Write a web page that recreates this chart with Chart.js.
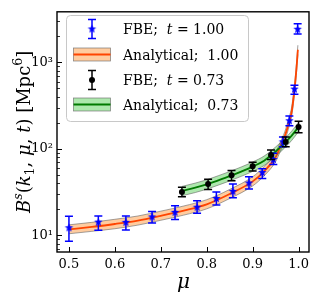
<!DOCTYPE html>
<html>
<head>
<meta charset="utf-8">
<script src="https://cdn.jsdelivr.net/npm/chart.js@4.4.1/dist/chart.umd.min.js"></script>
<style>
  html, body { margin: 0; padding: 0; background: #fff; }
  canvas { display: block; }
</style>
</head>
<body>
<canvas id="myChart" width="316" height="299"></canvas>
<script>
// FBE measurements, t = 1.00
const muBlue = [0.5, 0.564, 0.624, 0.681, 0.731, 0.779, 0.821, 0.857, 0.892, 0.921, 0.945, 0.966, 0.980, 0.991, 0.998];
const bBlue = [12.2, 14.2, 14.1, 16.3, 18.4, 21.1, 26.6, 32.2, 40.2, 53.1, 75.2, 120.5, 211, 491, 2421];
const bBlueLo = [8.5, 11.4, 11.5, 13.9, 15.2, 18.0, 22.4, 27.1, 34.4, 45.4, 65.8, 106, 185, 428, 2128];
const bBlueHi = [16.6, 16.7, 16.7, 18.8, 22.0, 25.1, 31.6, 39.2, 47.4, 58.9, 88.9, 137, 240, 545, 2800];

// FBE measurements, t = 0.73
const muBlack = [0.746, 0.803, 0.854, 0.900, 0.940, 0.972, 1.0];
const bBlack = [31.6, 39.2, 49.4, 62.8, 85.1, 120, 179];
const bBlackLo = [27.8, 33.9, 42.8, 55.4, 75, 106, 153];
const bBlackHi = [36.0, 44.6, 56.3, 70.0, 97, 137, 209];

// analytical, t = 1.00
const muA1 = [0.5, 0.55, 0.6, 0.65, 0.7, 0.75, 0.8, 0.85, 0.9, 0.925, 0.95, 0.96, 0.97, 0.98, 0.985, 0.99, 0.995, 0.9985];
const a1 = [11.7, 12.5, 13.5, 14.8, 16.8, 19.3, 22.8, 30.0, 42.0, 55.0, 80, 105, 140, 210, 270, 430, 800, 1400];
const a1Lo = [10.4, 11.1, 11.9, 13.1, 14.9, 17.1, 20.2, 26.6, 37.2, 48.7, 71, 93, 124, 186, 239, 381, 708, 1239];
const a1Hi = [13.2, 14.1, 15.3, 16.7, 19.0, 21.8, 25.8, 33.9, 47.5, 62.2, 90, 119, 158, 237, 305, 486, 904, 1582];

// analytical, t = 0.73
const muA2 = [0.746, 0.775, 0.8, 0.825, 0.85, 0.875, 0.9, 0.925, 0.95, 0.97, 0.985, 1.0];
const a2 = [32.5, 35.5, 38.8, 43.2, 48.3, 54.5, 62.3, 73, 93, 117, 142, 179];
const a2Lo = [28.6, 31.2, 34.1, 38.0, 42.5, 48.0, 54.8, 64.2, 81.8, 103, 125, 158];
const a2Hi = [36.7, 40.1, 43.8, 48.8, 54.6, 61.6, 70.4, 82.5, 105, 132, 160, 202];

const xTicks = [0.5, 0.6, 0.7, 0.8, 0.9, 1.0];
const xTickLabels = ['0.5', '0.6', '0.7', '0.8', '0.9', '1.0'];
const yTicks = [10, 100, 1000];
const yTickLabels = ['10¹', '10²', '10³'];
const yMinor = [7, 8, 9, 20, 30, 40, 50, 60, 70, 80, 90, 200, 300, 400, 500, 600, 700, 800, 900, 2000, 3000];

const serif = '"DejaVu Serif"';
const orangeFill = 'rgba(255,127,14,0.4)';
const greenFill = 'rgba(60,200,60,0.42)';
const edgeGray = 'rgba(100,100,100,0.75)';

function pts(xs, ys) {
  return xs.map((x, i) => ({ x: x, y: ys[i] }));
}

function starImage(r, color) {
  const c = document.createElement('canvas');
  c.width = c.height = Math.ceil(r * 2 + 2);
  const g = c.getContext('2d');
  const cx = c.width / 2, cy = c.height / 2;
  g.beginPath();
  for (let i = 0; i < 10; i++) {
    const rr = i % 2 ? r * 0.42 : r;
    const a = -Math.PI / 2 + i * Math.PI / 5;
    g.lineTo(cx + rr * Math.cos(a), cy + rr * Math.sin(a));
  }
  g.closePath();
  g.fillStyle = color;
  g.fill();
  return c;
}

// draw a run of text pieces with their own style (italic, sup, sub)
function runs(ctx, parts, size, x, y, measureOnly) {
  let w = 0;
  parts.forEach(p => {
    const s = p.sup || p.sub ? size * 0.7 : size;
    ctx.font = (p.it ? 'italic ' : '') + s + 'px ' + serif;
    const dy = p.sup ? -size * 0.42 : p.sub ? size * 0.22 : 0;
    if (!measureOnly) ctx.fillText(p.t, x + w, y + dy);
    w += ctx.measureText(p.t).width;
  });
  return w;
}

const frameTicks = {
  id: 'frameTicks',
  afterDraw(chart) {
    const { ctx, chartArea: a, scales } = chart;
    ctx.save();
    ctx.strokeStyle = '#000';
    ctx.lineWidth = 1;
    xTicks.forEach(v => {
      const px = Math.round(scales.x.getPixelForValue(v)) + 0.5;
      ctx.beginPath(); ctx.moveTo(px, a.bottom); ctx.lineTo(px, a.bottom - 5); ctx.stroke();
    });
    yTicks.forEach(v => {
      const py = Math.round(scales.y.getPixelForValue(v)) + 0.5;
      ctx.beginPath(); ctx.moveTo(a.left, py); ctx.lineTo(a.left + 5, py); ctx.stroke();
    });
    ctx.lineWidth = 0.8;
    yMinor.forEach(v => {
      const py = Math.round(scales.y.getPixelForValue(v)) + 0.5;
      ctx.beginPath(); ctx.moveTo(a.left, py); ctx.lineTo(a.left + 3, py); ctx.stroke();
    });
    ctx.lineWidth = 1.4;
    ctx.strokeRect(a.left, a.top, a.right - a.left, a.bottom - a.top);

    // axis titles
    ctx.fillStyle = '#000';
    ctx.textBaseline = 'alphabetic';
    runs(ctx, [{ t: 'μ', it: true }], 20, 177, 288);
    const yParts = [
      { t: 'B', it: true }, { t: 's', it: true, sup: true }, { t: '(' }, { t: 'k', it: true },
      { t: '1', sub: true }, { t: ', ' }, { t: 'μ', it: true }, { t: ', ' }, { t: 't', it: true },
      { t: ') [Mpc' }, { t: '6', sup: true }, { t: ']' }
    ];
    ctx.translate(30, (a.top + a.bottom) / 2);
    ctx.rotate(-Math.PI / 2);
    const w = runs(ctx, yParts, 18, 0, 0, true);
    runs(ctx, yParts, 18, -w / 2, 0);
    ctx.restore();
  }
};

const errorBars = {
  id: 'errorBars',
  beforeDatasetDraw(chart, args) {
    const ds = chart.data.datasets[args.index];
    if (!ds.errLo) return;
    const { ctx, scales } = chart;
    ctx.save();
    ctx.strokeStyle = ds.errColor;
    ctx.lineWidth = 1.5;
    ds.data.forEach((p, i) => {
      const px = scales.x.getPixelForValue(p.x);
      const y1 = scales.y.getPixelForValue(ds.errLo[i]);
      const y2 = scales.y.getPixelForValue(ds.errHi[i]);
      ctx.beginPath();
      ctx.moveTo(px, y1); ctx.lineTo(px, y2);
      ctx.moveTo(px - 4, y1); ctx.lineTo(px + 4, y1);
      ctx.moveTo(px - 4, y2); ctx.lineTo(px + 4, y2);
      ctx.stroke();
    });
    ctx.restore();
  }
};

const legendBox = {
  id: 'legendBox',
  afterDraw(chart) {
    const ctx = chart.ctx;
    ctx.save();
    ctx.beginPath();
    ctx.roundRect(66.5, 15.5, 182, 106, 4);
    ctx.fillStyle = 'rgba(255,255,255,0.85)';
    ctx.fill();
    ctx.strokeStyle = '#c8c8c8';
    ctx.lineWidth = 1;
    ctx.stroke();

    const hx = 92;
    function errHandle(y, color) {
      ctx.strokeStyle = color;
      ctx.lineWidth = 1.5;
      ctx.beginPath();
      ctx.moveTo(hx, y - 9.5); ctx.lineTo(hx, y + 9.5);
      ctx.moveTo(hx - 4, y - 9.5); ctx.lineTo(hx + 4, y - 9.5);
      ctx.moveTo(hx - 4, y + 9.5); ctx.lineTo(hx + 4, y + 9.5);
      ctx.stroke();
    }
    function bandHandle(y, fill, line) {
      ctx.fillStyle = '#fff';
      ctx.fillRect(73.5, y - 6.5, 37, 13);
      ctx.fillStyle = fill;
      ctx.fillRect(73.5, y - 6.5, 37, 13);
      ctx.strokeStyle = edgeGray;
      ctx.lineWidth = 0.8;
      ctx.strokeRect(73.5, y - 6.5, 37, 13);
      ctx.strokeStyle = line;
      ctx.lineWidth = 2;
      ctx.beginPath(); ctx.moveTo(73.5, y); ctx.lineTo(110.5, y); ctx.stroke();
    }
    errHandle(29, '#0000ff');
    ctx.drawImage(starImg, hx - starImg.width / 2, 29 - starImg.height / 2);
    bandHandle(54.5, orangeFill, '#ff4500');
    errHandle(80, '#000');
    ctx.fillStyle = '#000';
    ctx.beginPath(); ctx.arc(hx, 80, 3, 0, Math.PI * 2); ctx.fill();
    bandHandle(104.5, greenFill, '#007a00');

    ctx.fillStyle = '#000';
    ctx.textBaseline = 'alphabetic';
    const tx = 123;
    runs(ctx, [{ t: 'FBE;  ' }, { t: 't', it: true }, { t: ' = 1.00' }], 14, tx, 34);
    runs(ctx, [{ t: 'Analytical;  1.00' }], 14, tx, 59.5);
    runs(ctx, [{ t: 'FBE;  ' }, { t: 't', it: true }, { t: ' = 0.73' }], 14, tx, 85);
    runs(ctx, [{ t: 'Analytical;  0.73' }], 14, tx, 109.5);
    ctx.restore();
  }
};

const starImg = starImage(4.5, '#0000ff');

function edge(xs, ys, fill, bg, ord) {
  return {
    data: pts(xs, ys), borderColor: edgeGray, borderWidth: 0.8, pointRadius: 0,
    fill: fill, backgroundColor: bg, cubicInterpolationMode: 'monotone', order: ord
  };
}

const ctx = document.getElementById('myChart');
new Chart(ctx, {
  type: 'line',
  data: {
    datasets: [
      edge(muA1, a1Lo, false, 'transparent', 7),
      edge(muA1, a1Hi, '-1', orangeFill, 6),
      { data: pts(muA1, a1), borderColor: '#ff4500', borderWidth: 1.8, pointRadius: 0, fill: false,
        cubicInterpolationMode: 'monotone', order: 5 },
      edge(muA2, a2Lo, false, 'transparent', 4),
      edge(muA2, a2Hi, '-1', greenFill, 3),
      { data: pts(muA2, a2), borderColor: '#007a00', borderWidth: 1.8, pointRadius: 0, fill: false,
        cubicInterpolationMode: 'monotone', order: 2 },
      { data: pts(muBlue, bBlue), showLine: false, pointStyle: starImg, pointRadius: 4.5,
        errLo: bBlueLo, errHi: bBlueHi, errColor: '#0000ff', order: 1 },
      { data: pts(muBlack, bBlack), showLine: false, pointStyle: 'circle', pointRadius: 3,
        backgroundColor: '#000', borderColor: '#000', borderWidth: 0,
        errLo: bBlackLo, errHi: bBlackHi, errColor: '#000', order: 0 }
    ]
  },
  options: {
    responsive: false,
    animation: false,
    devicePixelRatio: 1,
    layout: { padding: { top: 5, right: 7, left: 0, bottom: 0 } },
    plugins: {
      legend: { display: false },
      tooltip: { enabled: false },
      filler: { drawTime: 'beforeDatasetsDraw' }
    },
    scales: {
      x: {
        type: 'linear', min: 0.474, max: 1.0227,
        grid: { display: false, drawTicks: false },
        border: { display: false },
        afterBuildTicks: s => { s.ticks = xTicks.map(v => ({ value: v })); },
        afterFit: s => { s.height = 47; },
        ticks: {
          autoSkip: false, maxRotation: 0, padding: 5, color: '#000',
          font: { family: serif, size: 13 },
          callback: (v, i) => xTickLabels[i]
        }
      },
      y: {
        type: 'logarithmic', min: 6.4, max: 3850,
        grid: { display: false, drawTicks: false },
        border: { display: false },
        afterBuildTicks: s => { s.ticks = yTicks.map(v => ({ value: v })); },
        afterFit: s => { s.width = 57; },
        ticks: {
          autoSkip: false, padding: 4, color: '#000',
          font: { family: serif, size: 13 },
          callback: (v, i) => yTickLabels[i]
        }
      }
    }
  },
  plugins: [errorBars, frameTicks, legendBox]
});
</script>
</body>
</html>
